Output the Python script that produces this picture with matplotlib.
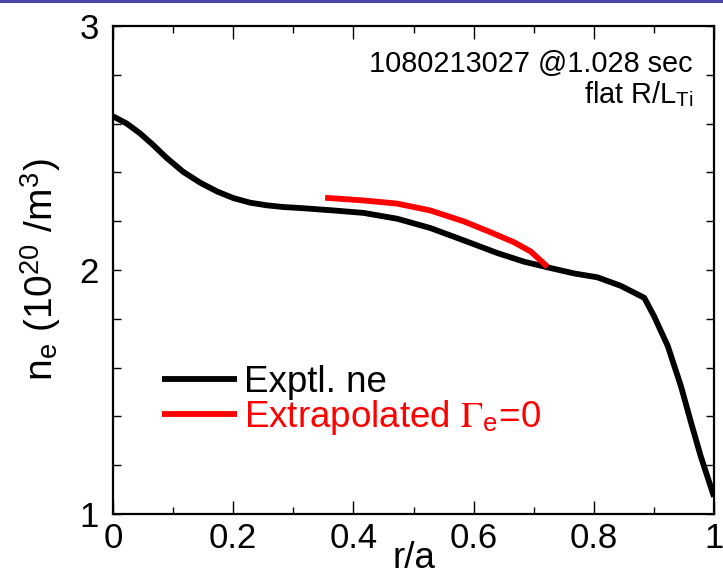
import matplotlib
matplotlib.use("Agg")
import matplotlib.pyplot as plt
from matplotlib import font_manager
from matplotlib.patches import Rectangle
from matplotlib.ticker import MultipleLocator

# ---- data ----
exp_r = [0.0, 0.023, 0.045, 0.067, 0.089, 0.117, 0.145, 0.173, 0.20, 0.228,
         0.256, 0.284, 0.312, 0.367, 0.417, 0.473, 0.528, 0.584, 0.639, 0.684,
         0.723, 0.767, 0.806, 0.845, 0.884, 0.90, 0.923, 0.945, 0.962, 0.978, 1.0]
exp_ne = [2.63, 2.60, 2.560, 2.512, 2.460, 2.402, 2.358, 2.322, 2.295, 2.276,
          2.265, 2.258, 2.254, 2.244, 2.234, 2.210, 2.172, 2.121, 2.070, 2.034,
          2.011, 1.986, 1.970, 1.935, 1.886, 1.812, 1.689, 1.524, 1.373, 1.236, 1.071]
ext_r = [0.353, 0.417, 0.473, 0.528, 0.584, 0.628, 0.667, 0.695, 0.723]
ext_ne = [2.296, 2.285, 2.272, 2.244, 2.199, 2.155, 2.114, 2.076, 2.013]
x_ticks = [0, 0.2, 0.4, 0.6, 0.8, 1]
x_ticklabels = ["0", "0.2", "0.4", "0.6", "0.8", "1"]
y_ticks = [1, 2, 3]
y_ticklabels = ["1", "2", "3"]
shot_text = "1080213027 @1.028 sec"
flat_text = r"flat R/L$_\mathregular{Ti}$"
legend_labels = ["Exptl. ne", r"Extrapolated $\Gamma_\mathregular{e}$=0"]

# ---- font ----
fam = "Liberation Sans"
try:
    font_manager.findfont("Liberation Sans Narrow", fallback_to_default=False)
    fam = "Liberation Sans Narrow"
except Exception:
    pass
plt.rcParams["font.family"] = [fam, "DejaVu Sans"]
plt.rcParams["mathtext.fontset"] = "stix"

fig = plt.figure(figsize=(7.23, 5.80), dpi=100)
fig.patches.append(Rectangle((0, 1 - 3 / 580), 1, 3 / 580, transform=fig.transFigure,
                             facecolor="#4848a8", edgecolor="none", zorder=0))
ax = fig.add_axes([113 / 723, 66 / 580, (714 - 113) / 723, (514 - 26) / 580])

l1, = ax.plot(exp_r, exp_ne, color="black", lw=4.2, solid_joinstyle="round", solid_capstyle="butt")
l2, = ax.plot(ext_r, ext_ne, color="#ff0000", lw=4.2, solid_joinstyle="round", solid_capstyle="butt")

ax.set_xlim(0, 1)
ax.set_ylim(1, 3)
ax.set_xticks(x_ticks)
ax.set_xticklabels(x_ticklabels)
ax.set_yticks(y_ticks)
ax.set_yticklabels(y_ticklabels)
ax.xaxis.set_minor_locator(MultipleLocator(0.1))
ax.yaxis.set_minor_locator(MultipleLocator(0.2))
ax.tick_params(which="both", direction="in", top=True, right=True, width=1.0,
               labelsize=25, pad=6)
ax.tick_params(axis="x", which="major", length=9.5)
ax.tick_params(axis="x", which="minor", length=5)
ax.tick_params(axis="y", which="both", length=5.5)
ax.tick_params(axis="y", which="major", pad=10)
for s in ax.spines.values():
    s.set_linewidth(1.6)

ax.set_xlabel("r/a", fontsize=26.5, labelpad=-10)
ax.set_ylabel(r"n$_\mathregular{e}$ (10$^\mathregular{20}$ /m$^\mathregular{3}$)", fontsize=28, labelpad=12)

ax.text(0.965, 0.905, shot_text, transform=ax.transAxes, ha="right", va="baseline", fontsize=20.8)
ax.text(0.965, 0.843, flat_text, transform=ax.transAxes, ha="right", va="baseline", fontsize=20.8)

ax.legend([l1, l2], legend_labels, loc="upper left", bbox_to_anchor=(0.0815, 0.305),
          frameon=False, fontsize=26.5, handlelength=2.04, handletextpad=0.19,
          labelspacing=-0.05, borderpad=0, borderaxespad=0, labelcolor="linecolor")

fig.savefig("out.png", dpi=100)
